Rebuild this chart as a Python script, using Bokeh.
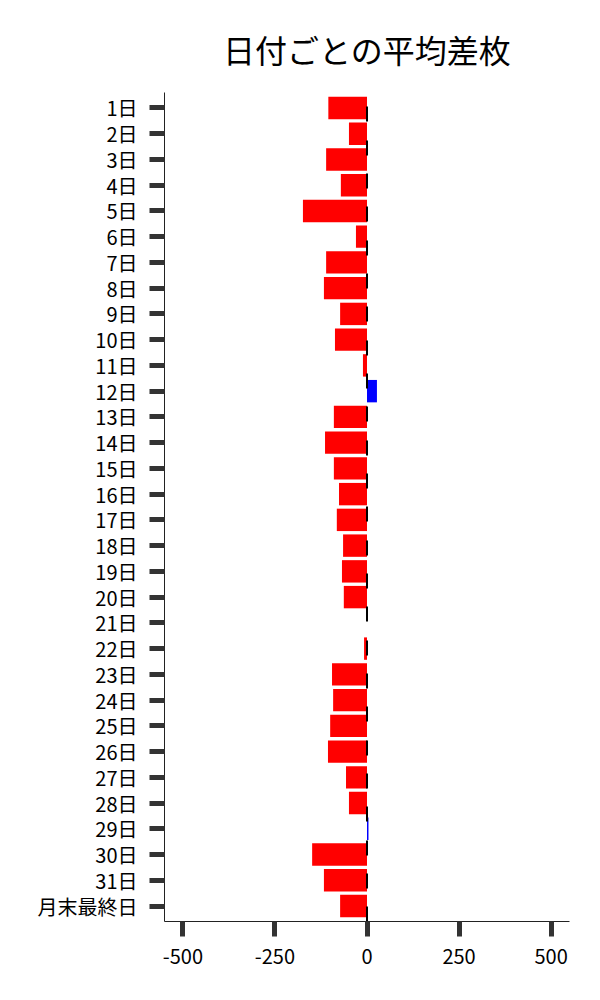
from bokeh.plotting import figure
from bokeh.models import Range1d, FixedTicker, ColumnDataSource
from bokeh.embed import file_html
from bokeh.resources import INLINE

days = ["1日", "2日", "3日", "4日", "5日", "6日", "7日", "8日", "9日", "10日",
        "11日", "12日", "13日", "14日", "15日", "16日", "17日", "18日", "19日", "20日",
        "21日", "22日", "23日", "24日", "25日", "26日", "27日", "28日", "29日", "30日",
        "31日", "月末最終日"]
avg_diff = [-105, -49, -111, -71, -174, -30, -111, -117, -73, -87,
            -11, 27, -90, -114, -90, -76, -82, -65, -68, -63,
            0, -8, -95, -92, -100, -106, -57, -49, 4, -149,
            -117, -73]
x_ticks = [-500, -250, 0, 250, 500]

FONT = "Noto Sans CJK JP"
pos = list(range(len(days)))
colors = ["#0000ff" if v > 0 else "#ff0000" for v in avg_diff]
src = ColumnDataSource(dict(y=pos, v=avg_diff, c=colors))

pad = 0.6
y_top = -pad
y_bottom = len(days) - 1 + pad

p = figure(width=592, height=992, output_backend="svg", toolbar_location=None,
           x_range=Range1d(-550, 550), y_range=Range1d(y_bottom, y_top),
           min_border_left=164, min_border_right=23, min_border_top=92, min_border_bottom=71,
           title="日付ごとの平均差枚")

p.hbar(y="y", left=0, right="v", height=0.87, fill_color="c", line_color=None, source=src)
p.line(x=[0, 0], y=[y_bottom, y_top], line_color="black", line_width=2,
       line_dash="15 18 15 18 15 19")

p.title.align = "center"
p.title.text_font = FONT
p.title.text_font_size = "32px"
p.title.text_font_style = "normal"
p.title.text_color = "#000000"
p.title.standoff = 42

p.grid.visible = False
p.outline_line_color = None
p.background_fill_color = "white"
p.border_fill_color = "white"

p.yaxis.ticker = FixedTicker(ticks=pos)
p.yaxis.major_label_overrides = {i: d for i, d in enumerate(days)}
p.xaxis.ticker = FixedTicker(ticks=x_ticks)
p.xaxis.major_label_overrides = {t: str(t) for t in x_ticks}

for ax in (p.xaxis[0], p.yaxis[0]):
    ax.axis_line_color = "#222222"
    ax.axis_line_width = 1
    ax.major_tick_line_color = "#333333"
    ax.major_tick_line_width = 5
    ax.major_tick_out = 15
    ax.major_tick_in = 0
    ax.minor_tick_line_color = None
    ax.major_label_text_font = FONT
    ax.major_label_text_font_size = "20px"
    ax.major_label_text_color = "#000000"
    ax.major_label_standoff = 12

open("out.html", "w").write(file_html(p, INLINE))
